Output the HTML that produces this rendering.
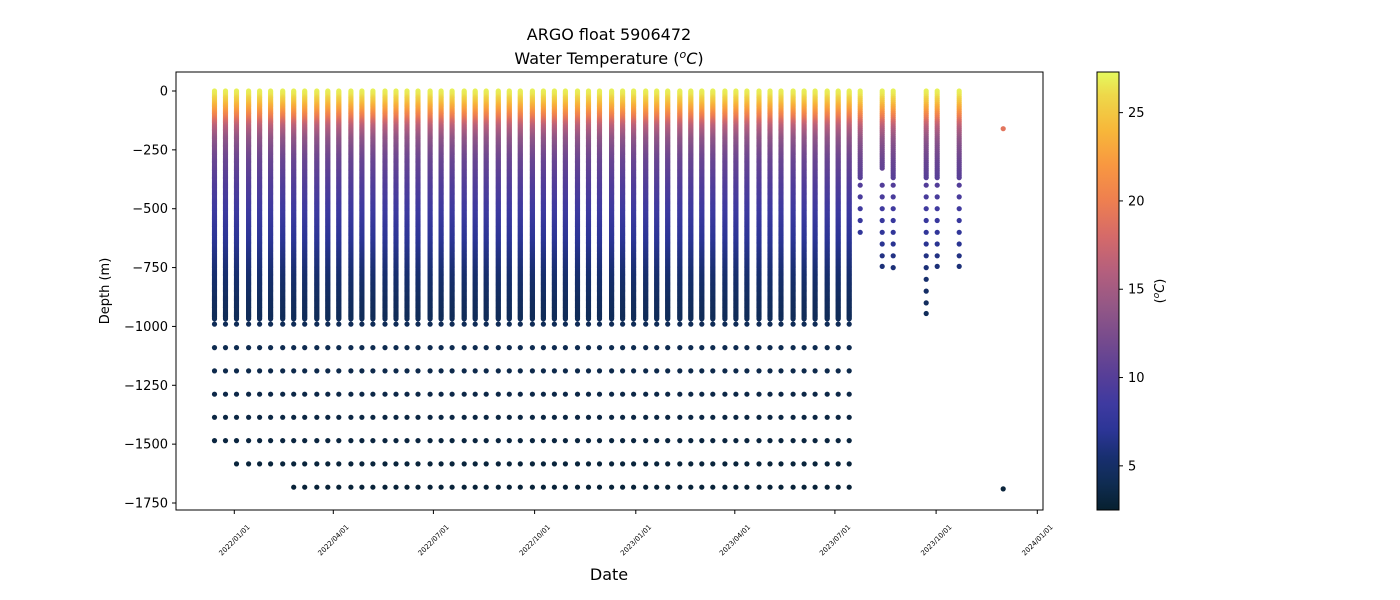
<!DOCTYPE html>
<html><head><meta charset="utf-8"><style>
html,body{margin:0;padding:0;background:#fff;}
svg{display:block;font-family:"DejaVu Sans","Liberation Sans",sans-serif;}
</style></head><body>
<svg id="chart" width="1400" height="600" viewBox="0 0 1400 600">
<defs>
<linearGradient id="cbgrad" x1="0" y1="1" x2="0" y2="0"></linearGradient>
</defs>
<text x="609" y="40" font-size="16" text-anchor="middle">ARGO float 5906472</text>
<text x="609" y="64" font-size="16" text-anchor="middle">Water Temperature (<tspan font-style="italic" font-size="11" dy="-6">o</tspan><tspan font-style="italic" dy="6">C</tspan>)</text>
<g id="marks"></g>
<rect x="176" y="72" width="867" height="438" fill="none" stroke="#000" stroke-width="1"/>
<g id="yaxis"></g>
<g id="xaxis"></g>
<text transform="translate(109,291) rotate(-90)" font-size="13" text-anchor="middle">Depth (m)</text>
<text x="609" y="580" font-size="16" text-anchor="middle">Date</text>
<rect x="1097" y="72" width="22" height="438" fill="url(#cbgrad)" stroke="#000" stroke-width="1"/>
<g id="cbaxis"></g>
<text transform="translate(1164,291) rotate(-90)" font-size="13" text-anchor="middle">(<tspan font-style="italic" font-size="9" dy="-5">o</tspan><tspan font-style="italic" dy="5">C</tspan>)</text>
</svg>
<script>
// ---- data ----
const fullProfileDays = [-18,-8,2,13,23,33,44,54,64,75,85,95,106,116,126,137,147,157,167,178,188,198,209,219,229,240,250,260,271,281,291,301,312,322,332,343,353,363,374,384,394,405,415,425,435,446,456,466,477,487,497,508,518,528,539,549,559];
const fullProfileMaxDense = 970;
const deepLevels = [990,1090,1189,1288,1386,1485,1584,1683];
const deepLevelStartIdx = [0,0,0,0,0,0,2,7];
const sparseDays = [569,589,599,629,639,659];
const sparseDenseMax = [370,330,370,370,370,370];
const sparseMax = [640,745,790,945,745,745];
const lastDay = 699;
const lastDepths = [160,1690];
const lastTemps = [19,3];
const refDepths = [0,20,45,80,110,150,200,250,300,400,500,600,700,800,900,1000,1200,1500,1700];
const refTemps = [27,26.5,25,22.5,20,16.5,14,12.5,11.3,9.8,8.6,7.4,6.3,5.3,4.6,4.2,3.7,3.2,2.9];
const tempMin = 2.5, tempMax = 27.3;
const yTicks = [0,-250,-500,-750,-1000,-1250,-1500,-1750];
const xTickLabels = ["2022/01/01","2022/04/01","2022/07/01","2022/10/01","2023/01/01","2023/04/01","2023/07/01","2023/10/01","2024/01/01"];
const xTickDays = [0,90,181,273,365,455,546,638,730];
const cbTicks = [5,10,15,20,25];
const cmapTemps = [2.5,4,5.5,7,8.5,10,12,14,16,18,20,22,24,26,27.3];
const cmapColors = ["#07202f","#0f2c52","#182f70","#2c3596","#3e3aa0","#553e98","#744a8e","#935786","#b45f7d","#d56a69","#ee7f50","#f89741","#f7b73a","#eed84a","#e5fa5e"];
// ---- scales ----
const NS="http://www.w3.org/2000/svg";
function xScale(d){return 234.3 + d*1.1;}
function yScale(v){return 91 - v*0.23543;}
function hex(c){return [parseInt(c.substr(1,2),16),parseInt(c.substr(3,2),16),parseInt(c.substr(5,2),16)];}
function color(t){
  if(t<=cmapTemps[0]) return cmapColors[0];
  for(let i=1;i<cmapTemps.length;i++){
    if(t<=cmapTemps[i]){
      const f=(t-cmapTemps[i-1])/(cmapTemps[i]-cmapTemps[i-1]);
      const a=hex(cmapColors[i-1]),b=hex(cmapColors[i]);
      return "rgb("+a.map((v,k)=>Math.round(v+(b[k]-v)*f)).join(",")+")";
    }
  }
  return cmapColors[cmapColors.length-1];
}
function tempAt(d){
  for(let i=1;i<refDepths.length;i++){
    if(d<=refDepths[i]){const f=(d-refDepths[i-1])/(refDepths[i]-refDepths[i-1]);return refTemps[i-1]+(refTemps[i]-refTemps[i-1])*f;}
  }
  return refTemps[refTemps.length-1];
}
const marks=document.getElementById('marks');
function dot(x,depth,t,name){
  const c=document.createElementNS(NS,'circle');
  c.setAttribute('cx',x.toFixed(1));c.setAttribute('cy',yScale(-depth).toFixed(1));
  c.setAttribute('r','2.6');c.setAttribute('fill',color(t));
  
  
  marks.appendChild(c);
}
fullProfileDays.forEach((d,i)=>{
  const x=xScale(d);
  for(let z=0;z<=fullProfileMaxDense;z+=4){dot(x,z,tempAt(z),'profile-point');}
  deepLevels.forEach((z,j)=>{ if(i>=deepLevelStartIdx[j]) dot(x,z,tempAt(z),'deep-point'); });
});
sparseDays.forEach((d,i)=>{
  const x=xScale(d);
  for(let z=0;z<=sparseDenseMax[i];z+=8){dot(x,z,tempAt(z),'sparse-profile-point');}
  for(let z=400;z<=sparseMax[i]+5;z+=50){dot(x,Math.min(z,sparseMax[i]),tempAt(z),'sparse-deep-point');}
});
lastDepths.forEach((z,i)=>dot(xScale(lastDay),z,lastTemps[i],'last-profile-point'));
const ya=document.getElementById('yaxis');
yTicks.forEach(v=>{
  const y=yScale(v);
  const l=document.createElementNS(NS,'line');
  l.setAttribute('x1',172);l.setAttribute('x2',176);l.setAttribute('y1',y);l.setAttribute('y2',y);l.setAttribute('stroke','#000');
  
  
  ya.appendChild(l);
  const t=document.createElementNS(NS,'text');
  t.setAttribute('x',168);t.setAttribute('y',y+4.5);t.setAttribute('font-size','13');t.setAttribute('text-anchor','end');
  t.textContent=(v<0?'\u2212'+(-v):String(v));
  
  
  ya.appendChild(t);
});
const xa=document.getElementById('xaxis');
xTickDays.forEach((d,i)=>{
  const x=xScale(d);
  const l=document.createElementNS(NS,'line');
  l.setAttribute('x1',x);l.setAttribute('x2',x);l.setAttribute('y1',510);l.setAttribute('y2',514);l.setAttribute('stroke','#000');
  
  
  xa.appendChild(l);
  const t=document.createElementNS(NS,'text');
  t.setAttribute('transform','translate('+(x)+',540) rotate(-45)');
  t.setAttribute('font-size','7');t.setAttribute('text-anchor','middle');t.setAttribute('dy','2.5');
  t.textContent=xTickLabels[i];
  
  
  xa.appendChild(t);
});
const g=document.getElementById('cbgrad');
cmapTemps.forEach((t,i)=>{
  const s=document.createElementNS(NS,'stop');
  s.setAttribute('offset',((t-tempMin)/(tempMax-tempMin)).toFixed(4));
  s.setAttribute('stop-color',cmapColors[i]);
  g.appendChild(s);
});
const cb=document.getElementById('cbaxis');
cbTicks.forEach(v=>{
  const y=510-(v-tempMin)/(tempMax-tempMin)*438;
  const l=document.createElementNS(NS,'line');
  l.setAttribute('x1',1119);l.setAttribute('x2',1123);l.setAttribute('y1',y);l.setAttribute('y2',y);l.setAttribute('stroke','#000');
  
  
  cb.appendChild(l);
  const t=document.createElementNS(NS,'text');
  t.setAttribute('x',1128);t.setAttribute('y',y+4.5);t.setAttribute('font-size','13');
  t.textContent=String(v);
  
  
  cb.appendChild(t);
});
</script>
</body></html>
